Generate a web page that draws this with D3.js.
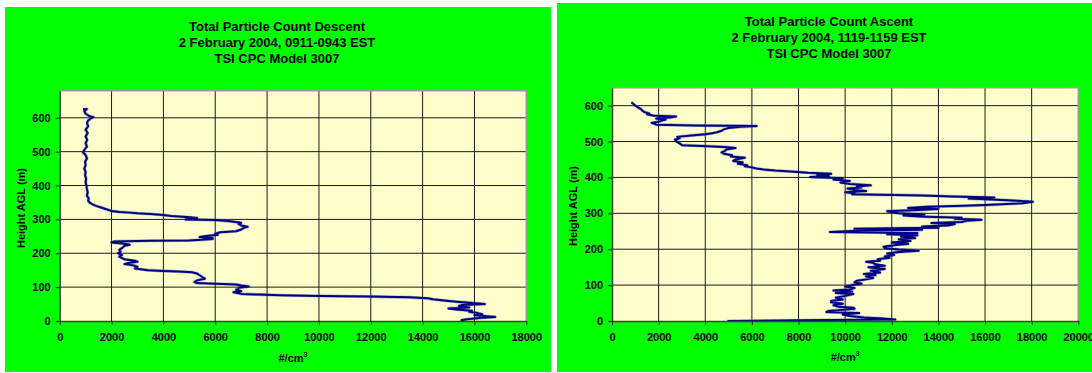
<!DOCTYPE html>
<html>
<head>
<meta charset="utf-8">
<script src="https://cdn.jsdelivr.net/npm/d3@7"></script>
<style>
  html, body { margin: 0; padding: 0; background: #ffffff; }
  svg { display: block; }
  text { font-family: "Liberation Sans", Arial, sans-serif; font-weight: bold; fill: #000; }
</style>
</head>
<body>
<svg id="chart" width="1092" height="373"></svg>
<script>
// ---- Descent profile, 0911-0943 EST (recorded from the top down) ----
const descentHeight = [
  625, 626, 620, 612, 605, 602, 598, 592, 585, 575, 565, 555, 545, 535, 525, 515, 505, 498, 490, 480,
  470, 460, 450, 440, 430, 420, 410, 400, 390, 380, 370, 362, 355, 350, 345, 340, 335, 330, 325, 322,
  320, 318, 316, 313, 310, 307, 304, 300, 298, 295, 290, 287, 282, 278, 275, 270, 265, 262, 258, 255,
  250, 248, 245, 242, 238, 237, 235, 232, 228, 225, 222, 215, 210, 205, 200, 195, 190, 182, 178, 175,
  172, 168, 165, 160, 155, 150, 148, 146, 144, 140, 135, 130, 125, 120, 115, 112, 110, 108, 105, 102,
  98, 95, 92, 88, 85, 82, 80, 78, 76, 74, 72, 70, 67, 64, 60, 57, 54, 50, 47, 44,
  40, 37, 34, 30, 27, 24, 20, 17, 14, 12, 9, 6, 4, 2, 0
];
const descentCount = [
  900, 1050, 950, 1000, 1150, 1300, 1200, 1100, 1050, 1100, 1000, 1080, 1000, 1060, 1000, 1050, 950, 900, 1000, 1050,
  980, 1000, 950, 1000, 980, 1020, 1000, 1030, 1050, 1080, 1050, 1120, 1100, 1150, 1250, 1400, 1600, 1800, 2000, 2300,
  2700, 3000, 3500, 4000, 4300, 4900, 5300, 4850, 6000, 6500, 7000, 6900, 7000, 7250, 7100, 7000, 6800, 6200, 6000, 6100,
  5600, 5400, 5900, 5900, 5000, 3500, 2100, 2000, 2500, 2700, 2500, 2400, 2300, 2350, 2250, 2400, 2300, 2500, 2900, 3000,
  2700, 2500, 2800, 3000, 2900, 3400, 4000, 4600, 5100, 5300, 5400, 5500, 5600, 5300, 5200, 5300, 6000, 6800, 7000, 7300,
  6900, 6900, 6800, 7000, 6700, 6900, 7000, 7700, 8500, 10000, 12000, 13500, 14200, 14400, 14900, 15300, 15800, 16400, 15500, 15400,
  15800, 15000, 15300, 15900, 15800, 16100, 16300, 16000, 16500, 16800, 16200, 15800, 15600, 15500, 15600
];

// ---- Ascent profile, 1119-1159 EST (recorded from the ground up) ----
const ascentHeight = [
  0, 2, 4, 7, 10, 14, 18, 22, 25, 28, 31, 34, 37, 40, 44, 48, 52, 56, 60, 65,
  70, 75, 78, 82, 85, 88, 92, 96, 100, 104, 108, 112, 116, 120, 124, 128, 131, 135, 140, 145,
  150, 154, 158, 162, 165, 168, 172, 176, 180, 184, 188, 192, 196, 199, 203, 207, 211, 215, 219, 223,
  227, 231, 235, 239, 242, 245, 248, 251, 254, 257, 260, 263, 266, 270, 273, 276, 279, 282, 285, 288,
  291, 294, 297, 300, 303, 306, 309, 312, 315, 318, 321, 323, 325, 328, 332, 335, 338, 341, 344, 347,
  350, 353, 356, 359, 362, 365, 369, 372, 375, 378, 382, 386, 390, 394, 398, 401, 404, 407, 410, 413,
  416, 419, 422, 425, 428, 431, 434, 438, 442, 446, 450, 455, 458, 462, 466, 470, 474, 478, 482, 485,
  487, 490, 493, 497, 501, 505, 509, 513, 517, 520, 523, 526, 530, 534, 538, 541, 543, 545, 547, 549,
  552, 555, 558, 561, 564, 568, 570, 572, 574, 576, 578, 582, 586, 590, 594, 598, 602, 606, 609
];
const ascentCount = [
  4950, 8000, 12150, 11600, 10800, 10200, 9900, 10600, 9200, 9300, 9900, 10400, 10350, 9700, 9500, 9900, 9400, 9400, 9900, 9600,
  10000, 10350, 9600, 10300, 9500, 10200, 10400, 10000, 10300, 10700, 10400, 10500, 10900, 11200, 10900, 11300, 10800, 11500, 11100, 11700,
  11000, 11700, 11300, 11200, 10900, 11500, 11400, 11900, 11700, 12100, 11800, 12300, 13150, 12300, 11700, 11650, 12100, 12700, 12000, 12800,
  12300, 13000, 12400, 13100, 11800, 13100, 9350, 10300, 13300, 10400, 14000, 13300, 14400, 14700, 13700, 15000, 15200, 15850, 14700, 15000,
  13200, 12500, 13400, 12300, 12000, 11800, 13100, 14000, 12700, 13500, 15100, 16000, 16700, 17600, 18050, 17400, 16500, 15300, 16400, 14600,
  13300, 10300, 10400, 10000, 10900, 10400, 10100, 10700, 10500, 11100, 10200, 9800, 10200, 9500, 9900, 8500, 9300, 8800, 9400, 8400,
  7800, 7000, 6500, 6200, 6000, 5700, 5800, 5400, 5600, 5200, 5300, 5700, 5100, 5150, 4800, 4700, 4850, 4900, 5300, 4800,
  4100, 3000, 2950, 2850, 2750, 2700, 2900, 2800, 3400, 4000, 4300, 4500, 4700, 4800, 5000, 5500, 6200, 3500, 1900, 1850,
  1700, 2000, 2100, 2300, 1900, 2600, 2750, 1800, 1650, 1500, 1600, 1400, 1300, 1250, 1150, 1050, 950, 900, 830
];

// ---- Axis ticks ----
const heightTicks = [0, 100, 200, 300, 400, 500, 600];
const descentCountTicks = [0, 2000, 4000, 6000, 8000, 10000, 12000, 14000, 16000, 18000];
const ascentCountTicks = [0, 2000, 4000, 6000, 8000, 10000, 12000, 14000, 16000, 18000, 20000];

const descentTitle = ["Total Particle Count Descent", "2 February 2004, 0911-0943 EST", "TSI CPC Model 3007"];
const ascentTitle = ["Total Particle Count Ascent", "2 February 2004, 1119-1159 EST", "TSI CPC Model 3007"];
const yAxisTitle = "Height AGL (m)";

const svg = d3.select("#chart");

function drawPanel(cfg) {
  const g = svg.append("g");

  // green chart area
  g.append("rect")
    .attr("x", cfg.frame[0]).attr("y", cfg.frame[1])
    .attr("width", cfg.frame[2] - cfg.frame[0]).attr("height", cfg.frame[3] - cfg.frame[1])
    .attr("fill", "#00ff00");

  const x = d3.scaleLinear().domain([0, cfg.xMax]).range([cfg.plot.left, cfg.plot.right]);
  const y = d3.scaleLinear().domain([0, cfg.yMax]).range([cfg.plot.bottom, cfg.plot.top]);

  // plot background
  g.append("rect")
    .attr("x", cfg.plot.left).attr("y", cfg.plot.top)
    .attr("width", cfg.plot.right - cfg.plot.left).attr("height", cfg.plot.bottom - cfg.plot.top)
    .attr("fill", "#ffffcc");

  // gridlines
  g.append("g").selectAll("line").data(cfg.xTicks.filter(v => v > 0 && v < cfg.xMax)).join("line")
    .attr("x1", d => x(d)).attr("x2", d => x(d))
    .attr("y1", cfg.plot.top).attr("y2", cfg.plot.bottom)
    .attr("stroke", "#1a1a1a").attr("stroke-width", 1);
  g.append("g").selectAll("line").data(heightTicks.filter(v => v > 0)).join("line")
    .attr("x1", cfg.plot.left).attr("x2", cfg.plot.right)
    .attr("y1", d => y(d)).attr("y2", d => y(d))
    .attr("stroke", "#1a1a1a").attr("stroke-width", 1);

  // top / right frame
  g.append("path")
    .attr("d", `M${cfg.plot.left},${cfg.plot.top}H${cfg.plot.right}V${cfg.plot.bottom}`)
    .attr("fill", "none").attr("stroke", "#9a9a9a").attr("stroke-width", 1.5);

  // profile line
  const pts = cfg.heights.map((h, i) => [cfg.counts[i], h]);
  const line = d3.line().x(d => x(d[0])).y(d => y(d[1]));
  g.append("path").datum(pts)
    .attr("d", line)
    .attr("fill", "none").attr("stroke", "#4d5fb0").attr("stroke-opacity", 0.45)
    .attr("stroke-width", 3.2).attr("stroke-linejoin", "round");
  g.append("path").datum(pts)
    .attr("d", line)
    .attr("fill", "none").attr("stroke", "#000080")
    .attr("stroke-width", 2).attr("stroke-linejoin", "round");

  // axes
  const yAxis = g.append("g")
    .attr("transform", `translate(${cfg.plot.left},0)`)
    .call(d3.axisLeft(y).tickValues(heightTicks).tickSizeInner(4).tickSizeOuter(0).tickPadding(5).tickFormat(d3.format("d")));
  const xAxis = g.append("g")
    .attr("transform", `translate(0,${cfg.plot.bottom})`)
    .call(d3.axisBottom(x).tickValues(cfg.xTicks).tickSizeInner(4).tickSizeOuter(0).tickPadding(8).tickFormat(d3.format("d")));
  [yAxis, xAxis].forEach(a => {
    a.select(".domain").attr("stroke", "#404040").attr("stroke-width", 1.5);
    a.selectAll(".tick line").attr("stroke", "#202020");
    a.selectAll("text")
      .attr("font-family", '"Liberation Sans", Arial, sans-serif')
      .attr("font-weight", "bold").attr("font-size", 11).attr("fill", "#000");
  });

  // titles
  cfg.title.forEach((t, i) => {
    g.append("text")
      .attr("x", cfg.titleX).attr("y", cfg.titleY + i * 16)
      .attr("text-anchor", "middle").attr("font-size", 13)
      .text(t);
  });

  // axis titles
  const xt = g.append("text")
    .attr("x", (cfg.plot.left + cfg.plot.right) / 2).attr("y", cfg.xTitleY)
    .attr("text-anchor", "middle").attr("font-size", 11);
  xt.append("tspan").text("#/cm");
  xt.append("tspan").attr("font-size", 7).attr("dy", -5).text("3");

  g.append("text")
    .attr("transform", `translate(${cfg.yTitleX},${cfg.yTitleY}) rotate(-90)`)
    .attr("text-anchor", "middle").attr("font-size", 11)
    .text(yAxisTitle);
}

drawPanel({
  frame: [5, 7, 551, 372],
  plot: { left: 59.7, right: 526.3, top: 90.7, bottom: 321 },
  xMax: 18000, yMax: 680,
  xTicks: descentCountTicks,
  heights: descentHeight, counts: descentCount,
  title: descentTitle, titleX: 277, titleY: 30.5,
  xTitleY: 362, yTitleX: 25, yTitleY: 208
});

drawPanel({
  frame: [557, 3, 1092, 372],
  plot: { left: 612, right: 1078.3, top: 87.7, bottom: 321 },
  xMax: 20000, yMax: 650,
  xTicks: ascentCountTicks,
  heights: ascentHeight, counts: ascentCount,
  title: ascentTitle, titleX: 829, titleY: 26.4,
  xTitleY: 361, yTitleX: 576.5, yTitleY: 206
});
</script>
</body>
</html>
